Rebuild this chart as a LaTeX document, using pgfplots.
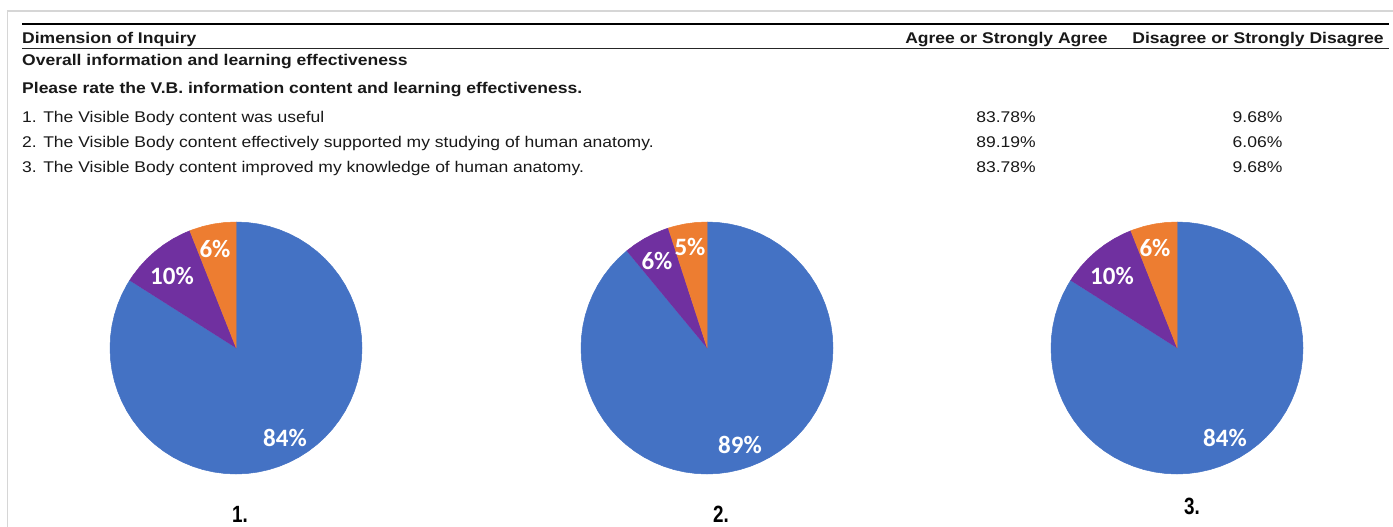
\documentclass[border=0pt]{standalone}
\usepackage{pgfplots}
\pgfplotsset{compat=1.18}
\usepackage{fontspec}
\usepackage{graphicx}
\setmainfont{Liberation Sans}
\newfontfamily\carlito{Carlito}
\definecolor{pieblue}{HTML}{4472C4}
\definecolor{piepurple}{HTML}{7030A0}
\definecolor{pieorange}{HTML}{ED7D31}
\definecolor{framegray}{HTML}{D6D6D6}
\newcommand\tx[1]{\scalebox{1.13}[1]{#1}}
\newcommand\nx[1]{\scalebox{0.8}[1]{#1}}
\pgfplotsset{
  pie/.style={hide axis, scale only axis, width=252bp, height=252bp,
    xmin=-1, xmax=1, ymin=-1, ymax=1, anchor=center, clip=false},
  slice/.style={data cs=polar, line width=0.5pt, draw=#1, fill=#1, mark=none}
}
\begin{document}
\begin{tikzpicture}
\useasboundingbox (0,0) rectangle (1393bp,-527bp);
\fill[white] (0,0) rectangle (1393bp,-527bp);
% frame and rules
\draw[framegray, line width=1.2bp] (7.5bp,-527bp) -- (7.5bp,-11bp) -- (1393bp,-11bp);
\draw[black, line width=2.4bp] (22bp,-24.2bp) -- (1389bp,-24.2bp);
\draw[black!85, line width=0.9bp] (22bp,-48bp) -- (1389bp,-48bp);
% table text
\begin{scope}[every node/.style={inner sep=0pt, text=black!90, font=\fontsize{15.5bp}{18bp}\selectfont}]
\node[anchor=base west] at (22bp,-43.3bp) {\tx{\bfseries Dimension of Inquiry}};
\node[anchor=base] at (1006.5bp,-43.3bp) {\tx{\bfseries Agree or Strongly Agree}};
\node[anchor=base] at (1258bp,-43.3bp) {\tx{\bfseries Disagree or Strongly Disagree}};
\node[anchor=base west] at (22bp,-65bp) {\tx{\bfseries Overall information and learning effectiveness}};
\node[anchor=base west] at (22bp,-93.5bp) {\tx{\bfseries Please rate the V.B. information content and learning effectiveness.}};
\node[anchor=base west] at (22bp,-122.8bp) {\tx{1. The Visible Body content was useful}};
\node[anchor=base west] at (22bp,-147.8bp) {\tx{2. The Visible Body content effectively supported my studying of human anatomy.}};
\node[anchor=base west] at (22bp,-172.8bp) {\tx{3. The Visible Body content improved my knowledge of human anatomy.}};
\node[anchor=base] at (1006bp,-122.8bp) {\tx{83.78\%}};
\node[anchor=base] at (1006bp,-147.8bp) {\tx{89.19\%}};
\node[anchor=base] at (1006bp,-172.8bp) {\tx{83.78\%}};
\node[anchor=base] at (1257.5bp,-122.8bp) {\tx{9.68\%}};
\node[anchor=base] at (1257.5bp,-147.8bp) {\tx{6.06\%}};
\node[anchor=base] at (1257.5bp,-172.8bp) {\tx{9.68\%}};
\end{scope}
% ---------- pie 1: 84 / 10 / 6 ----------
\begin{axis}[pie, at={(236bp,-348bp)}]
\addplot[slice=pieblue] coordinates {(0,0) (147.6,1) (150,1) (155,1) (160,1) (165,1) (170,1) (175,1) (180,1) (185,1) (190,1) (195,1) (200,1) (205,1) (210,1) (215,1) (220,1) (225,1) (230,1) (235,1) (240,1) (245,1) (250,1) (255,1) (260,1) (265,1) (270,1) (275,1) (280,1) (285,1) (290,1) (295,1) (300,1) (305,1) (310,1) (315,1) (320,1) (325,1) (330,1) (335,1) (340,1) (345,1) (350,1) (355,1) (360,1) (365,1) (370,1) (375,1) (380,1) (385,1) (390,1) (395,1) (400,1) (405,1) (410,1) (415,1) (420,1) (425,1) (430,1) (435,1) (440,1) (445,1) (450,1)};
\addplot[slice=piepurple] coordinates {(0,0) (111.6,1) (115,1) (120,1) (125,1) (130,1) (135,1) (140,1) (145,1) (147.6,1)};
\addplot[slice=pieorange] coordinates {(0,0) (90,1) (95,1) (100,1) (105,1) (110,1) (111.6,1)};
\end{axis}
% ---------- pie 2: 89 / 6 / 5 ----------
\begin{axis}[pie, at={(707bp,-348bp)}]
\addplot[slice=pieblue] coordinates {(0,0) (129.6,1) (135,1) (140,1) (145,1) (150,1) (155,1) (160,1) (165,1) (170,1) (175,1) (180,1) (185,1) (190,1) (195,1) (200,1) (205,1) (210,1) (215,1) (220,1) (225,1) (230,1) (235,1) (240,1) (245,1) (250,1) (255,1) (260,1) (265,1) (270,1) (275,1) (280,1) (285,1) (290,1) (295,1) (300,1) (305,1) (310,1) (315,1) (320,1) (325,1) (330,1) (335,1) (340,1) (345,1) (350,1) (355,1) (360,1) (365,1) (370,1) (375,1) (380,1) (385,1) (390,1) (395,1) (400,1) (405,1) (410,1) (415,1) (420,1) (425,1) (430,1) (435,1) (440,1) (445,1) (450,1)};
\addplot[slice=piepurple] coordinates {(0,0) (108,1) (110,1) (115,1) (120,1) (125,1) (129.6,1)};
\addplot[slice=pieorange] coordinates {(0,0) (90,1) (95,1) (100,1) (105,1) (108,1)};
\end{axis}
% ---------- pie 3: 84 / 10 / 6 ----------
\begin{axis}[pie, at={(1177bp,-348bp)}]
\addplot[slice=pieblue] coordinates {(0,0) (147.6,1) (150,1) (155,1) (160,1) (165,1) (170,1) (175,1) (180,1) (185,1) (190,1) (195,1) (200,1) (205,1) (210,1) (215,1) (220,1) (225,1) (230,1) (235,1) (240,1) (245,1) (250,1) (255,1) (260,1) (265,1) (270,1) (275,1) (280,1) (285,1) (290,1) (295,1) (300,1) (305,1) (310,1) (315,1) (320,1) (325,1) (330,1) (335,1) (340,1) (345,1) (350,1) (355,1) (360,1) (365,1) (370,1) (375,1) (380,1) (385,1) (390,1) (395,1) (400,1) (405,1) (410,1) (415,1) (420,1) (425,1) (430,1) (435,1) (440,1) (445,1) (450,1)};
\addplot[slice=piepurple] coordinates {(0,0) (111.6,1) (115,1) (120,1) (125,1) (130,1) (135,1) (140,1) (145,1) (147.6,1)};
\addplot[slice=pieorange] coordinates {(0,0) (90,1) (95,1) (100,1) (105,1) (110,1) (111.6,1)};
\end{axis}
% pie labels
\begin{scope}[every node/.style={inner sep=0pt, text=white, font=\carlito\bfseries\fontsize{25bp}{28bp}\selectfont}]
\node at (215bp,-249bp) {6\%};
\node at (172bp,-276bp) {10\%};
\node at (285bp,-438bp) {84\%};
\node at (690bp,-247bp) {5\%};
\node at (657bp,-261bp) {6\%};
\node at (740bp,-445bp) {89\%};
\node at (1155bp,-248bp) {6\%};
\node at (1112bp,-276bp) {10\%};
\node at (1225bp,-438bp) {84\%};
\end{scope}
\begin{scope}[every node/.style={inner sep=0pt, anchor=base, font=\bfseries\fontsize{23.5bp}{26bp}\selectfont}]
\node at (240bp,-522bp) {\nx{1.}};
\node at (721bp,-522bp) {\nx{2.}};
\node at (1192bp,-514bp) {\nx{3.}};
\end{scope}
\end{tikzpicture}
\end{document}
